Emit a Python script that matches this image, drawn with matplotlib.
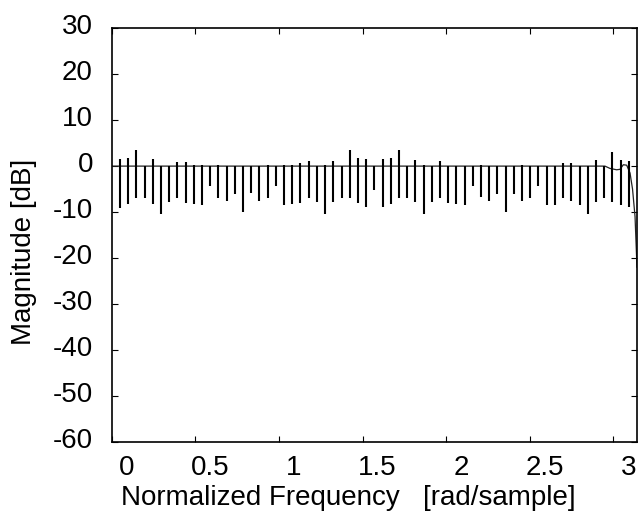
import numpy as np
import matplotlib
matplotlib.use("Agg")
import matplotlib.pyplot as plt
import matplotlib.transforms as mtransforms

# spike positions: index k (frequency = k*pi/64)
spike_index = list(range(1, 64))
spike_top = [1.6, 1.8, 3.5, 0.0, 1.5, 0.0, 0.0, 1.0, 0.9, 0.3,
             0.3, 0.0, 0.3, 0.0, 0.0, 0.0, 0.0, 0.0, 0.3, 0.0,
             0.2, 0.2, 0.6, 1.1, 0.0, 0.2, 1.2, 0.0, 3.5, 1.8,
             1.5, 0.0, 1.5, 1.8, 3.5, 0.0, 1.3, 0.3, 0.0, 1.1,
             0.0, 0.0, 0.0, 0.0, 0.2, 0.0, 0.0, 0.0, 0.0, 0.2,
             0.0, 0.0, 0.0, 0.0, 0.6, 0.6, 0.0, 0.0, 1.3, 0.0,
             3.1, 1.3, 1.1]
spike_bottom = [-9.1, -8.3, -7.0, -7.0, -8.3, -10.4, -7.8, -6.9, -8.1, -8.3,
                -8.5, -4.4, -6.9, -7.6, -6.0, -10.0, -5.9, -7.6, -6.9, -4.4,
                -8.5, -8.3, -8.1, -6.9, -7.8, -10.4, -7.8, -7.0, -6.9, -8.1,
                -9.0, -5.1, -9.0, -8.3, -6.9, -6.9, -7.8, -10.4, -7.8, -6.9,
                -8.1, -8.3, -8.5, -4.4, -6.8, -7.6, -6.0, -10.0, -6.0, -7.6,
                -6.9, -4.4, -8.5, -8.5, -6.9, -7.6, -8.5, -10.5, -7.8, -6.9,
                -7.8, -8.5, -9.0]

# smooth response curve (baseline)
base_freq = [0.0, 2.95, 2.98, 3.02, 3.04, 3.06, 3.08, 3.10, 3.115, 3.13, 3.1416]
base_mag = [0.0, 0.0, -0.5, -0.8, -0.7, 0.3, 0.2, -1.5, -5.0, -11.0, -22.0]

xticks = [0, 0.5, 1, 1.5, 2, 2.5, 3]
xtick_labels = ["0", "0.5", "1", "1.5", "2", "2.5", "3"]
yticks = [30, 20, 10, 0, -10, -20, -30, -40, -50, -60]
ytick_labels = ["30", "20", "10", "0", "-10", "-20", "-30", "-40", "-50", "-60"]

plt.rcParams['font.family'] = ['Liberation Sans', 'DejaVu Sans']

fig = plt.figure(figsize=(6.38, 5.13), dpi=100)
ax = fig.add_axes([0.1751, 0.139, 0.8233, 0.8058])

spike_freq = np.array(spike_index) * np.pi / 64
ax.plot(base_freq, base_mag, color='#222222', lw=0.9)
ax.vlines(spike_freq, spike_bottom, spike_top, color='black', lw=1.5)

ax.set_xlim(0, np.pi)
ax.set_ylim(-60, 30)
ax.set_xticks(xticks)
ax.set_xticklabels(xtick_labels)
ax.set_yticks(yticks)
ax.set_yticklabels(ytick_labels)

ax.tick_params(direction='in', length=4, width=0.8, top=True, right=True,
               labelsize=20)
ax.tick_params(axis='x', pad=9.5)
ax.tick_params(axis='y', pad=13.5)
for s in ax.spines.values():
    s.set_linewidth(1.2)

for lab in ax.get_xticklabels():
    lab.set_transform(lab.get_transform() +
                      mtransforms.ScaledTranslation(0.15, 0, fig.dpi_scale_trans))
for lab in ax.get_yticklabels():
    lab.set_transform(lab.get_transform() +
                      mtransforms.ScaledTranslation(0, 0.04, fig.dpi_scale_trans))

ax.set_xlabel("Normalized Frequency   [rad/sample]", fontsize=20)
ax.xaxis.set_label_coords(0.45, -0.105)
ax.set_ylabel("Magnitude [dB]", fontsize=20)
ax.yaxis.set_label_coords(-0.142, 0.459)

fig.savefig("out.png", dpi=100)
